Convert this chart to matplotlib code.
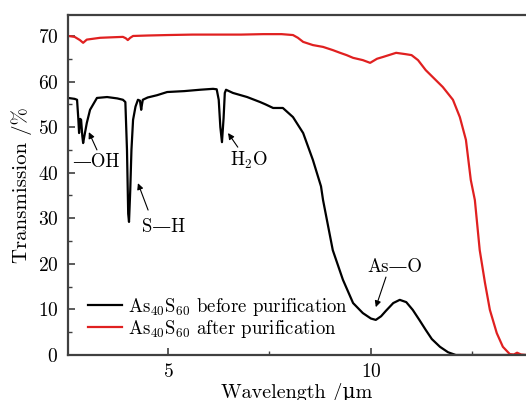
import matplotlib
matplotlib.use("Agg")
import matplotlib.pyplot as plt
from matplotlib.ticker import MultipleLocator

plt.rcParams['font.family'] = ['cmr10', 'DejaVu Serif']
plt.rcParams['mathtext.fontset'] = 'cm'
plt.rcParams['axes.formatter.use_mathtext'] = True

# Data
wl_before = [2.54, 2.70, 2.76, 2.79, 2.81, 2.84, 2.86, 2.89, 2.91, 2.95, 3.00, 3.08, 3.25,
             3.50, 3.75, 3.89, 3.95, 3.99, 4.02, 4.04, 4.07, 4.10, 4.14, 4.20, 4.26, 4.31,
             4.34, 4.36, 4.38, 4.50, 4.73, 4.98, 5.40, 5.79, 6.11, 6.20, 6.25, 6.29,
             6.33, 6.37, 6.40, 6.43, 6.60, 6.95, 7.27, 7.40, 7.59, 7.83, 8.08, 8.33,
             8.57, 8.77, 8.82, 9.06, 9.31, 9.56, 9.80, 10.00, 10.12, 10.25, 10.37, 10.55,
             10.71, 10.87, 11.03, 11.20, 11.35, 11.50, 11.70, 11.90, 12.09, 12.5, 13.82]
t_before = [56.4, 56.2, 56.0, 52.0, 48.7, 51.8, 51.6, 48.0, 46.5, 48.5, 50.9, 53.8, 56.4,
            56.6, 56.3, 56.0, 55.5, 45.0, 31.0, 29.2, 36.0, 45.0, 51.6, 54.5, 56.0, 55.8,
            53.8, 55.0, 56.0, 56.5, 57.0, 57.7, 57.9, 58.2, 58.4, 58.3, 56.0, 50.0,
            46.7, 52.0, 57.5, 58.2, 57.5, 56.6, 55.5, 55.0, 54.2, 54.2, 52.2, 48.7,
            42.8, 37.0, 34.0, 23.0, 16.5, 11.4, 9.2, 8.0, 7.7, 8.5, 9.7, 11.4,
            12.1, 11.6, 9.9, 7.6, 5.5, 3.5, 1.8, 0.6, 0.0, 0.0, 0.0]

wl_after = [2.54, 2.70, 2.83, 2.91, 3.00, 3.33, 3.60, 3.89, 3.96, 4.01, 4.07, 4.14, 4.50,
            4.98, 5.60, 6.20, 6.80, 7.34, 7.80, 8.08, 8.20, 8.33, 8.57, 8.82, 9.06, 9.24,
            9.40, 9.56, 9.80, 9.98, 10.15, 10.30, 10.62, 10.86, 11.00, 11.16, 11.35,
            11.77, 12.02, 12.19, 12.34, 12.46, 12.56, 12.68, 12.81, 12.93, 13.10, 13.25,
            13.42, 13.52, 13.60, 13.70, 13.82]
t_after = [70.0, 69.8, 69.1, 68.5, 69.2, 69.6, 69.7, 69.8, 69.5, 69.1, 69.6, 70.0, 70.1,
           70.2, 70.3, 70.3, 70.3, 70.4, 70.4, 70.2, 69.6, 68.7, 68.0, 67.6, 66.9, 66.3,
           65.8, 65.2, 64.7, 64.1, 65.0, 65.4, 66.3, 66.0, 65.8, 64.7, 62.5,
           58.8, 56.0, 52.2, 47.2, 38.4, 34.0, 23.0, 15.8, 9.9, 4.8, 1.8,
           0.2, 0.1, 0.5, 0.1, 0.0]

legend_labels = [r'As$_{40}$S$_{60}$ before purification',
                 r'As$_{40}$S$_{60}$ after purification']

# annotation labels, label positions, arrow tails and arrow heads (data coords)
ann_texts = ['—OH', 'S—H', r'H$_2$O', 'As—O']
ann_text_xy = [(3.21, 42.4), (4.90, 28.1), (7.00, 42.8), (10.60, 19.3)]
ann_tail_xy = [(3.25, 45.0), (4.51, 31.8), (6.72, 45.6), (10.37, 17.1)]
ann_head_xy = [(3.05, 48.9), (4.26, 37.7), (6.48, 48.7), (10.12, 10.5)]

fig = plt.figure(figsize=(5.26, 4.0), dpi=100)
ax = fig.add_axes([68/526, 45/400, 1 - 68/526, 340/400])

ax.plot(wl_before, t_before, color='black', lw=1.6, label=legend_labels[0])
ax.plot(wl_after, t_after, color='#e02020', lw=1.6, label=legend_labels[1])

ax.set_xlim(2.537, 13.82)
ax.set_ylim(0, 74.6)
ax.xaxis.set_major_locator(MultipleLocator(5))
ax.xaxis.set_minor_locator(MultipleLocator(2.5))
ax.yaxis.set_major_locator(MultipleLocator(10))
ax.yaxis.set_minor_locator(MultipleLocator(5))
ax.tick_params(which='both', direction='in', color='#404040', labelsize=14)
ax.tick_params(which='major', length=5, width=1.2)
ax.tick_params(which='minor', length=3, width=1.0)
ax.tick_params(axis='x', pad=6)
ax.tick_params(axis='y', pad=7)
for s in ['left', 'bottom', 'top']:
    ax.spines[s].set_color('#404040')
    ax.spines[s].set_linewidth(1.6)
ax.spines['right'].set_visible(False)

ax.set_xlabel('Wavelength /μm', fontsize=14.5, labelpad=1)
ax.set_ylabel('Transmission /%', fontsize=15, labelpad=4)

ap = dict(arrowstyle='-|>', color='black', lw=0.8, mutation_scale=9, shrinkA=0, shrinkB=0)
for txt, txy, tail, head in zip(ann_texts, ann_text_xy, ann_tail_xy, ann_head_xy):
    ax.text(txy[0], txy[1], txt, fontsize=13.5, ha='center', va='center')
    ax.annotate('', xy=head, xytext=tail, arrowprops=ap)

leg = ax.legend(loc='lower left', bbox_to_anchor=(0.0437, 0.045), frameon=False,
                fontsize=13.5, handlelength=1.8, handletextpad=0.32,
                labelspacing=0.0, borderaxespad=0, borderpad=0)

fig.savefig('out.png', dpi=100)
